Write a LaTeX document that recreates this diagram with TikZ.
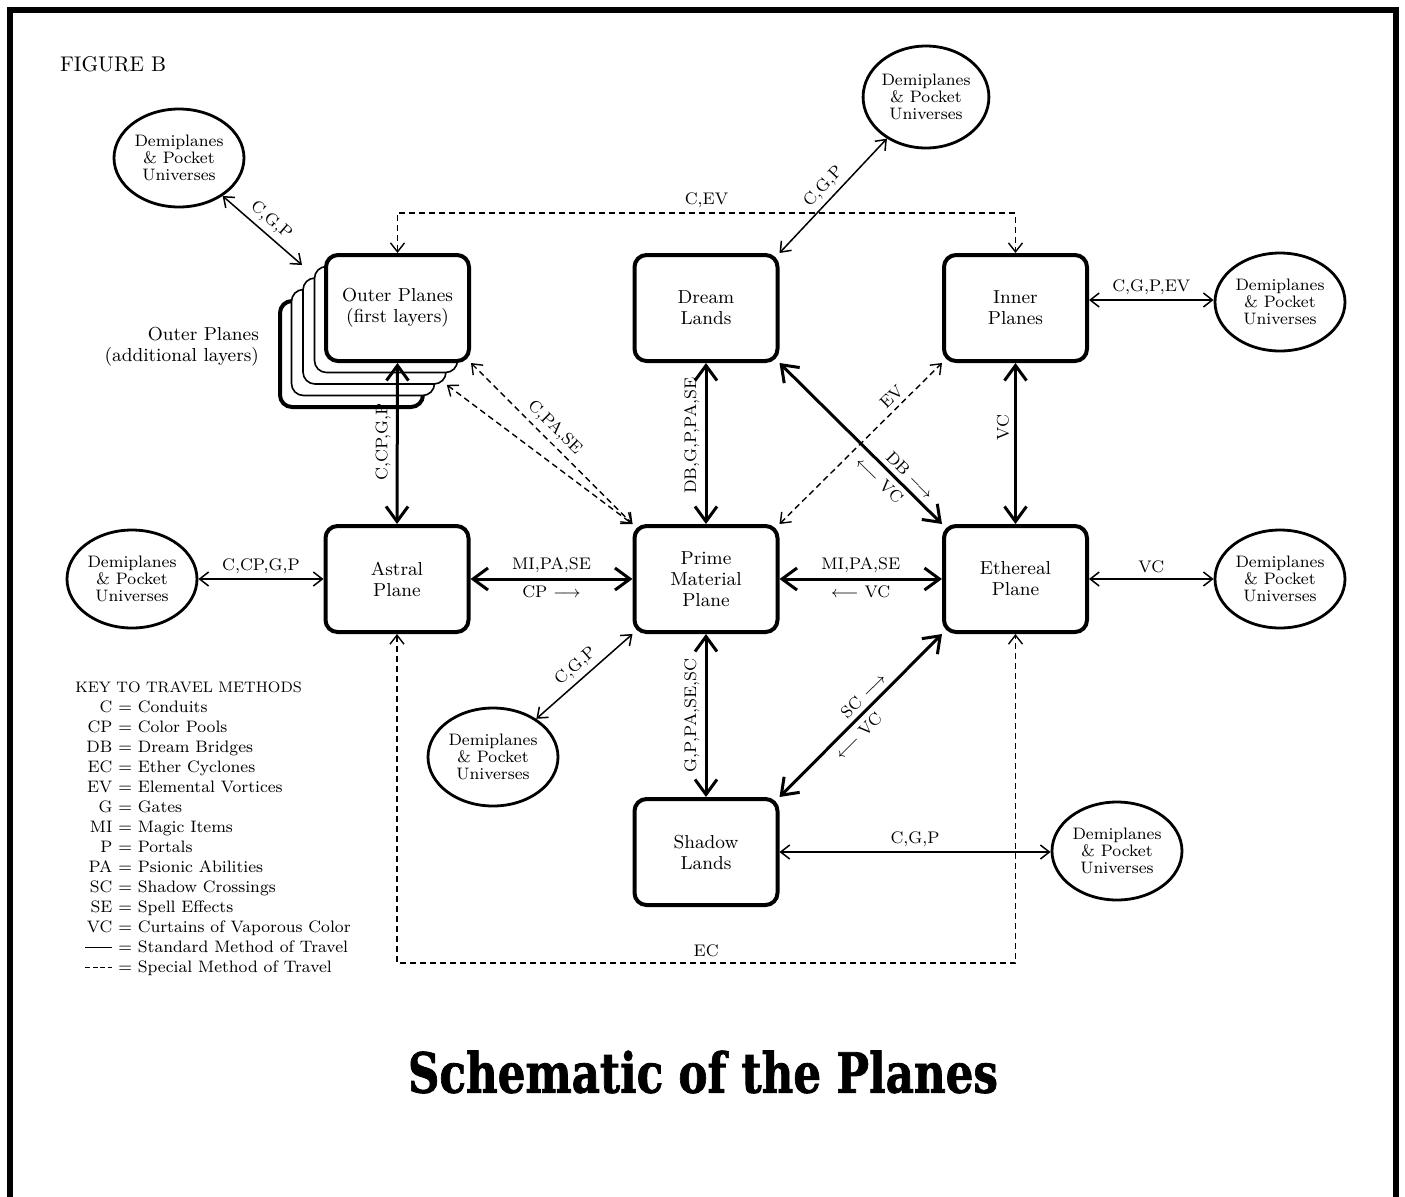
\documentclass[tikz,border=0pt]{standalone}
\usepackage{fontspec}
\usepackage{graphicx}
\usetikzlibrary{arrows.meta,shapes.geometric}

\newfontfamily\titlefont{DejaVu Serif}[BoldFeatures={FakeBold=1.5}]
\newcommand{\boxfont}{\fontsize{9.4}{10.5}\selectfont}
\newcommand{\demifont}{\fontsize{8.3}{8.4}\selectfont}
\newcommand{\lblfont}{\fontsize{8.4}{9}\selectfont}
\newcommand{\keyfont}{\fontsize{8.3}{10}\selectfont}
\newcommand{\figfont}{\fontsize{10.6}{12}\selectfont}
\newcommand{\keysolid}{\rule[0.55ex]{13.5pt}{0.6pt}}
\newcommand{\keydash}{\rule[0.55ex]{2.4pt}{0.6pt}\hspace{1.3pt}\rule[0.55ex]{2.4pt}{0.6pt}\hspace{1.3pt}\rule[0.55ex]{2.4pt}{0.6pt}\hspace{1.3pt}\rule[0.55ex]{2.4pt}{0.6pt}}

\begin{document}
\begin{tikzpicture}[x=0.5pt, y=-0.5pt,
    planebox/.style={draw, line width=2pt, rounded corners=6pt, fill=white,
      minimum width=71.5pt, minimum height=53pt, align=center, font=\boxfont},
    pocket/.style={draw, ellipse, line width=1.4pt, minimum width=65pt,
      minimum height=49pt, inner sep=0pt, align=center, font=\demifont},
    bigarrow/.style={line width=1.5pt,
      {Straight Barb[length=7.5pt,width=11pt]}-{Straight Barb[length=7.5pt,width=11pt]}},
    smallarrow/.style={line width=0.75pt,
      {Straight Barb[length=4.5pt,width=7pt]}-{Straight Barb[length=4.5pt,width=7pt]}},
    dasharrow/.style={smallarrow, line width=0.7pt, dash pattern=on 3pt off 2pt},
    lbl/.style={font=\lblfont, inner sep=2.5pt},
    vlbl/.style={lbl, rotate=90, anchor=south}]
    \useasboundingbox (0,0) rectangle (1405,1196);
    % Frame
    \draw[line width=3pt] (10,1220) -- (10,10) -- (1396,10) -- (1396,1220);
    \node[anchor=base west, font=\figfont] (figlbl) at (53,71) {FIGURE B};

    % Outer planes with the layers behind
    \foreach \k/\lw in {4/2pt,3/0.8pt,2/0.8pt,1/0.8pt}
        \node[planebox, line width=\lw] (layer\k) at (397.5-11.5*\k, 308+11.5*\k) {};
    \node[planebox] (outer) at (397.5,308) {Outer Planes\\(first layers)};
    \node[anchor=east, align=right, font=\boxfont] (layerlbl) at (266,347) {Outer Planes\\(additional layers)};

    % Planes
    \node[planebox] (dream) at (706,308) {Dream\\Lands};
    \node[planebox] (inner) at (1015.5,308) {Inner\\Planes};
    \node[planebox] (astral) at (397,579) {Astral\\Plane};
    \node[planebox] (prime) at (706,579) {Prime\\Material\\Plane};
    \node[planebox] (ether) at (1015.5,579) {Ethereal\\Plane};
    \node[planebox] (shadow) at (706,852) {Shadow\\Lands};

    % Demiplanes
    \node[pocket] (tlD) at (179,158) {Demiplanes\\\& Pocket\\Universes};
    \node[pocket, minimum width=58pt, minimum height=51pt] (trD) at (926,97) {Demiplanes\\\& Pocket\\Universes};
    \node[pocket] (rD1) at (1280,302) {Demiplanes\\\& Pocket\\Universes};
    \node[pocket] (lD) at (132,579) {Demiplanes\\\& Pocket\\Universes};
    \node[pocket] (rD2) at (1280,579) {Demiplanes\\\& Pocket\\Universes};
    \node[pocket] (bD) at (493,757) {Demiplanes\\\& Pocket\\Universes};
    \node[pocket] (brD) at (1117,851) {Demiplanes\\\& Pocket\\Universes};

    % Travel routes
    \coordinate (stacktip) at (302,265);
    \draw[smallarrow] (tlD) -- (stacktip) node[lbl, midway, sloped, above] {C,G,P};
    \draw[dasharrow] (outer.north) -- ++(0,-40) -| node[lbl, pos=0.25, above] {C,EV} (inner.north);
    \draw[smallarrow] (dream.north east) -- (trD) node[lbl, midway, sloped, above] {C,G,P};
    \draw[smallarrow] (inner.east |- 0,300) -- (rD1.west |- 0,300) node[lbl, midway, above] {C,G,P,EV};

    \draw[bigarrow] (outer.south) -- (astral.north) node[vlbl, pos=0.49] {C,CP,G,P};
    \draw[bigarrow] (dream.south) -- (prime.north) node[vlbl, pos=0.45] {DB,G,P,PA,SE};
    \draw[bigarrow] (inner.south) -- (ether.north) node[vlbl, pos=0.4] {VC};
    \draw[bigarrow] (dream.south east) -- (ether.north west)
        node[lbl, pos=0.75, sloped, above] {DB $\longrightarrow$}
        node[lbl, pos=0.67, sloped, below] {$\longleftarrow$ VC};
    \draw[dasharrow] (prime.north east) -- (inner.south west) node[lbl, pos=0.74, sloped, above] {EV};
    \draw[dasharrow] (outer.south east) -- (prime.north west) node[lbl, pos=0.46, sloped, above] {C,PA,SE};
    \draw[dasharrow] (layer2.south east) -- (prime.north west);

    \draw[smallarrow] (lD) -- (astral.west) node[lbl, midway, above] {C,CP,G,P};
    \draw[bigarrow] (astral.east) -- (prime.west)
        node[lbl, midway, above] {MI,PA,SE}
        node[lbl, midway, below] {CP $\longrightarrow$};
    \draw[bigarrow] (prime.east) -- (ether.west)
        node[lbl, midway, above] {MI,PA,SE}
        node[lbl, midway, below] {$\longleftarrow$ VC};
    \draw[smallarrow] (ether.east) -- (ether.east -| rD2.west) node[lbl, midway, above] {VC};

    \draw[smallarrow] (bD) -- (prime.south west) node[lbl, midway, sloped, above] {C,G,P};
    \draw[bigarrow] (prime.south) -- (shadow.north) node[vlbl, midway] {G,P,PA,SE,SC};
    \draw[bigarrow] (shadow.north east) -- (ether.south west)
        node[lbl, pos=0.57, sloped, above] {SC $\longrightarrow$}
        node[lbl, pos=0.43, sloped, below] {$\longleftarrow$ VC};
    \draw[smallarrow] (shadow.east) -- (shadow.east -| brD.west) node[lbl, midway, above] {C,G,P};
    \draw[dasharrow] (astral.south) -- ++(0,329) -| node[lbl, pos=0.25, above] {EC} (ether.south);

    % Key
    \node[anchor=north west, inner sep=0pt, font=\keyfont] (key) at (75,678) {%
        \begin{tabular}{@{\hspace{5pt}}r@{\ =\ }l@{}}
        \multicolumn{2}{@{}l@{}}{\fontsize{7.6}{10}\selectfont KEY TO TRAVEL METHODS}\\
        C & Conduits\\
        CP & Color Pools\\
        DB & Dream Bridges\\
        EC & Ether Cyclones\\
        EV & Elemental Vortices\\
        G & Gates\\
        MI & Magic Items\\
        P & Portals\\
        PA & Psionic Abilities\\
        SC & Shadow Crossings\\
        SE & Spell Effects\\
        VC & Curtains of Vaporous Color\\
        \keysolid & Standard Method of Travel\\
        \keydash & Special Method of Travel
        \end{tabular}};

    % Title
    \node (title) at (703,1072) {\resizebox{295pt}{21pt}{\titlefont\bfseries Schematic of the Planes}};
\end{tikzpicture}
\end{document}
